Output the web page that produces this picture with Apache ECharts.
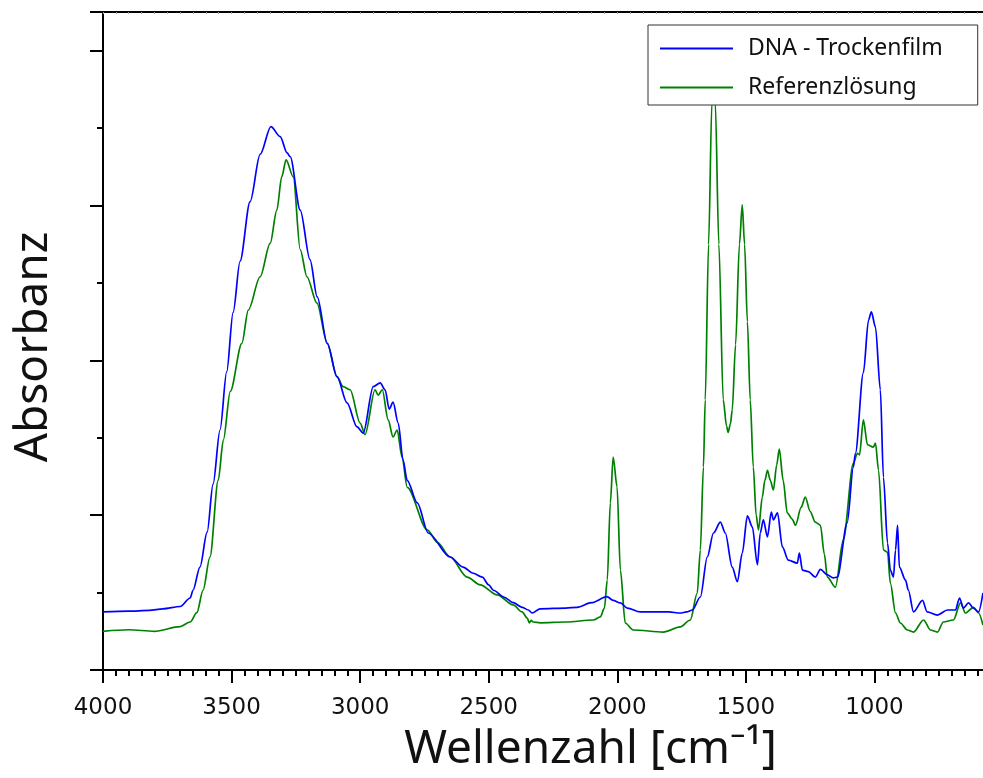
<!DOCTYPE html>
<html>
<head>
<meta charset="utf-8">
<script src="https://cdn.jsdelivr.net/npm/echarts@6/dist/echarts.min.js"></script>
<style>
html,body{margin:0;padding:0;background:#fff;}
#chart{width:983px;height:778px;}
</style>
</head>
<body>
<div id="chart"></div>
<script>
// ---- data (wavenumber in cm^-1, absorbance in arbitrary units) ----
const seriesNames = ['DNA - Trockenfilm', 'Referenzlösung'];
const xTickValues = [4000, 3500, 3000, 2500, 2000, 1500, 1000];

const waveDNA = [4000,3900,3820,3767,3700,3661,3650,3623,3595,3572,3545,3519,3494,3467,3428,3389,3347,3311,3284,3272,3233,3195,3167,3128,3090,3051,3012,2988,2949,2922,2903,2887,2872,2852,2833,2817,2778,2735,2650,2600,2560,2525,2500,2482,2440,2405,2370,2346,2331,2300,2200,2156,2100,2040,2016,1988,1961,1911,1800,1755,1730,1708,1677,1650,1626,1599,1580,1553,1533,1514,1494,1475,1455,1444,1432,1416,1401,1393,1377,1358,1335,1300,1292,1280,1257,1230,1210,1183,1160,1144,1106,1082,1074,1043,1023,1012,996,977,965,949,938,926,918,910,903,879,868,848,813,795,755,716,685,669,654,634,615,595,578];
const absDNA = [0.075,0.076,0.077,0.079,0.082,0.093,0.103,0.133,0.178,0.240,0.310,0.385,0.462,0.528,0.605,0.666,0.702,0.689,0.668,0.663,0.594,0.530,0.482,0.422,0.379,0.345,0.314,0.306,0.366,0.371,0.362,0.337,0.346,0.319,0.271,0.245,0.216,0.177,0.146,0.133,0.125,0.120,0.110,0.103,0.094,0.087,0.081,0.0775,0.0736,0.079,0.080,0.081,0.087,0.0947,0.090,0.0866,0.080,0.075,0.075,0.0736,0.075,0.0775,0.0943,0.146,0.177,0.191,0.177,0.133,0.114,0.151,0.199,0.185,0.136,0.177,0.194,0.172,0.204,0.194,0.203,0.159,0.142,0.138,0.151,0.129,0.127,0.120,0.130,0.123,0.119,0.120,0.190,0.262,0.280,0.384,0.452,0.4625,0.443,0.362,0.249,0.164,0.129,0.120,0.155,0.187,0.133,0.116,0.103,0.075,0.090,0.075,0.071,0.0775,0.0775,0.093,0.080,0.0866,0.080,0.075,0.0995];

const waveRef = [4000,3900,3800,3700,3661,3635,3611,3584,3552,3532,3505,3460,3435,3389,3350,3324,3305,3288,3260,3233,3207,3168,3128,3090,3066,3039,3000,2981,2942,2930,2914,2891,2872,2856,2837,2817,2739,2700,2650,2584,2533,2467,2405,2370,2350,2342,2335,2327,2300,2200,2093,2066,2050,2039,2027,2016,2001,1988,1969,1938,1821,1755,1716,1689,1677,1665,1658,1645,1632,1626,1619,1605,1588,1575,1569,1560,1553,1540,1525,1514,1505,1494,1483,1471,1460,1451,1436,1426,1416,1405,1393,1380,1370,1355,1339,1320,1307,1285,1269,1250,1230,1210,1195,1183,1152,1121,1082,1066,1058,1043,1027,1004,996,984,965,949,938,918,899,872,848,809,782,755,732,693,665,646,615,595,578];
const absRef = [0.050,0.052,0.050,0.056,0.062,0.074,0.103,0.146,0.245,0.297,0.360,0.422,0.465,0.508,0.551,0.594,0.637,0.659,0.637,0.543,0.508,0.474,0.422,0.379,0.366,0.362,0.319,0.304,0.362,0.355,0.362,0.323,0.301,0.310,0.275,0.236,0.181,0.165,0.146,0.120,0.110,0.097,0.084,0.075,0.067,0.0607,0.064,0.062,0.061,0.062,0.0646,0.0685,0.080,0.116,0.216,0.275,0.237,0.129,0.0607,0.0517,0.049,0.0556,0.0646,0.0995,0.155,0.262,0.349,0.550,0.733,0.765,0.733,0.550,0.349,0.315,0.307,0.318,0.336,0.420,0.550,0.601,0.550,0.450,0.349,0.262,0.200,0.181,0.2235,0.245,0.258,0.245,0.2325,0.265,0.2855,0.245,0.203,0.195,0.187,0.210,0.2235,0.205,0.191,0.187,0.150,0.120,0.107,0.168,0.267,0.280,0.278,0.323,0.291,0.288,0.293,0.258,0.155,0.152,0.112,0.0736,0.0607,0.0517,0.049,0.0646,0.0517,0.049,0.062,0.0646,0.0866,0.0736,0.081,0.0736,0.058];

const toPairs = (xs, ys) => xs.map((x, i) => [x, ys[i]]);

const chart = echarts.init(document.getElementById('chart'), null, {renderer: 'canvas'});

const xCommon = {
  type: 'value', min: 500, max: 4000, interval: 500, inverse: true,
  splitLine: {show: false}
};

chart.setOption({
  animation: false,
  backgroundColor: '#ffffff',
  grid: {left: 103, right: -20, top: 12, bottom: 108, containLabel: false, outerBoundsMode: 'none'},
  legend: {
    left: 648, top: 25, orient: 'vertical',
    backgroundColor: '#ffffff', borderColor: '#333333', borderWidth: 1, borderRadius: 0,
    padding: [12, 35, 6, 12],
    itemWidth: 73, itemHeight: 2, itemGap: 16,
    icon: 'rect',
    textStyle: {fontFamily: 'Noto Sans', fontSize: 23, color: '#111', padding: [0, 0, 0, 10]},
    data: seriesNames
  },
  xAxis: [
    Object.assign({}, xCommon, {
      position: 'bottom',
      name: 'Wellenzahl [cm⁻¹]', nameLocation: 'middle', nameGap: 57,
      nameTextStyle: {fontFamily: 'Noto Sans', fontSize: 46, color: '#111', padding: [0, 0, 0, 75]},
      axisLine: {show: true, onZero: false, lineStyle: {color: '#000', width: 2}},
      axisTick: {show: true, inside: false, length: 13, lineStyle: {color: '#000', width: 2}},
      minorTick: {show: true, splitNumber: 10, length: 6, lineStyle: {color: '#000', width: 2}},
      axisLabel: {show: true, margin: 27, fontFamily: 'DejaVu Sans', fontSize: 23, color: '#111', showMinLabel: false,
        formatter: v => xTickValues.includes(v) ? String(v) : ''}
    }),
    Object.assign({}, xCommon, {
      position: 'top',
      axisLine: {show: true, onZero: false, lineStyle: {color: '#000', width: 2}},
      axisTick: {show: true, inside: true, length: 2, lineStyle: {color: '#999', width: 1}},
      minorTick: {show: true, inside: true, splitNumber: 10, length: 2, lineStyle: {color: '#999', width: 1}},
      axisLabel: {show: false}
    })
  ],
  yAxis: {
    type: 'value', min: 0, max: 0.85, interval: 0.2,
    name: 'Absorbanz', nameLocation: 'middle', nameGap: 46, nameRotate: 90,
    nameTextStyle: {fontFamily: 'Noto Sans', fontSize: 46, color: '#111', padding: [0, 12, 0, 0]},
    axisLine: {show: true, onZero: false, lineStyle: {color: '#000', width: 2}},
    axisTick: {show: true, inside: false, length: 13, lineStyle: {color: '#000', width: 2}},
    minorTick: {show: true, splitNumber: 2, length: 6, lineStyle: {color: '#000', width: 2}},
    axisLabel: {show: false},
    splitLine: {show: false}
  },
  series: [
    {
      name: seriesNames[0], type: 'line', xAxisIndex: 0, data: toPairs(waveDNA, absDNA),
      showSymbol: false, symbol: 'none', smooth: 0.3, smoothMonotone: 'x',
      lineStyle: {color: '#0000ff', width: 1.7}, itemStyle: {color: '#0000ff'}, z: 3
    },
    {
      name: seriesNames[1], type: 'line', xAxisIndex: 0, data: toPairs(waveRef, absRef),
      showSymbol: false, symbol: 'none', smooth: 0.3, smoothMonotone: 'x',
      lineStyle: {color: '#008000', width: 1.7}, itemStyle: {color: '#008000'}, z: 2
    }
  ]
});
</script>
</body>
</html>
